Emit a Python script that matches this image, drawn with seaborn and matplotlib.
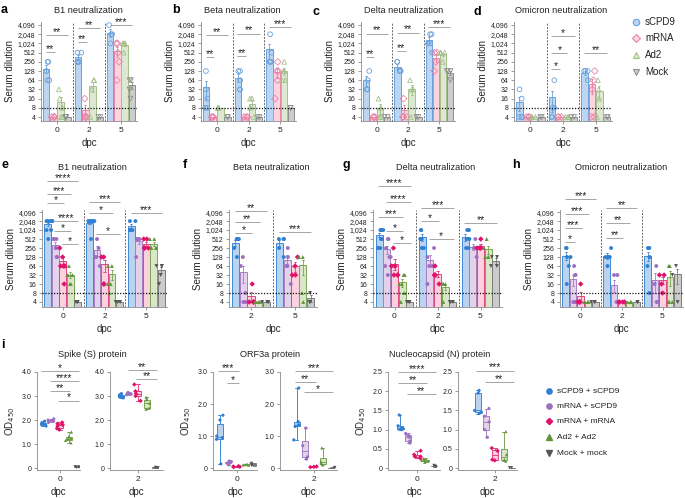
import numpy as np
import pandas as pd
import matplotlib
matplotlib.use('Agg')
import matplotlib.pyplot as plt
from matplotlib.ticker import NullLocator
import seaborn as sns

np.random.seed(3)

# ---------------- data ----------------
dpc3 = ['0', '2', '5']
dpc2 = ['2', '5']
groups1 = ['sCPD9', 'mRNA', 'Ad2', 'Mock']
groups2 = ['sCPD9 + sCPD9', 'mRNA + sCPD9', 'mRNA + mRNA', 'Ad2 + Ad2', 'Mock + mock']
titer_ticks = [4, 8, 16, 32, 64, 128, 256, 512, 1024, 2048, 4096]

# row 1 (single-dose groups), one list per dpc
a_sCPD9 = [[256, 256, 128, 64, 64], [512, 512, 256, 256, 256], [4096, 2048, 2048, 1024]]
a_mRNA = [[4, 4, 4, 4], [16, 4, 4, 4], [1024, 1024, 512, 256, 64]]
a_Ad2 = [[32, 16, 8, 4, 4], [64, 64, 32, 4], [1024, 1024, 1024, 1024, 512]]
a_Mock = [[4, 4, 4], [4, 4], [64, 64, 32, 16]]

b_sCPD9 = [[128, 32, 16, 8, 8], [128, 128, 64, 32, 32], [2048, 512, 256, 256, 256]]
b_mRNA = [[4, 4, 4], [4, 4, 4], [256, 128, 128, 64, 16]]
b_Ad2 = [[8, 8, 8, 8], [16, 16, 8, 4], [256, 128, 128, 64, 64]]
b_Mock = [[4, 4], [4, 4], [8, 8]]

c_sCPD9 = [[128, 64, 32, 32], [256, 256, 128, 128, 128], [2048, 2048, 1024, 1024, 512]]
c_mRNA = [[4, 4, 4], [16, 4, 4, 4], [512, 512, 256, 128]]
c_Ad2 = [[16, 8, 4, 4], [64, 32, 32, 4], [512, 512, 512, 512, 256]]
c_Mock = [[4, 4], [4, 4], [128, 128, 128, 64]]

d_sCPD9 = [[32, 16, 4, 4, 4], [64, 8, 8, 4, 4], [128, 128, 128, 64]]
d_mRNA = [[4, 4, 4], [4, 4, 4], [128, 64, 32, 4, 4]]
d_Ad2 = [[4, 4, 4], [4, 4, 4], [64, 32, 16, 4]]
d_Mock = [[4, 4], [4, 4], [4, 4]]

# row 2 (prime-boost groups)
e_ss = [[2048, 2048, 2048, 2048, 2048, 1024, 1024, 512], [2048, 2048, 2048, 2048, 2048, 2048, 512], [2048, 2048, 1024, 1024, 1024]]
e_ms = [[512, 512, 512, 256, 256, 128, 128], [512, 256, 128, 128, 64], [512, 512, 512, 512, 128]]
e_mm = [[256, 128, 64, 64, 64, 64, 16], [128, 128, 16, 16], [512, 512, 256, 256, 256]]
e_aa = [[64, 32, 32, 32, 16, 16], [64, 64, 16, 16, 8], [512, 512, 256, 256, 256]]
e_mock = [[4, 4, 4], [4, 4, 4], [64, 64, 64, 32, 16]]

f_ss = [[512, 512, 512, 256, 128], [512, 512, 512, 256, 128]]
f_ms = [[128, 64, 8, 4, 4], [256, 128, 64, 64, 16]]
f_mm = [[16, 4, 4, 4, 4], [128, 64, 32, 32]]
f_aa = [[4, 4, 4, 4], [128, 128, 8, 4]]
f_mock = [[4, 4, 4], [8, 4, 4]]

g_ss = [[1024, 1024, 1024, 1024, 512, 512, 256, 256], [1024, 1024, 512, 512, 256, 256], [1024, 1024, 512, 512, 256, 256]]
g_ms = [[512, 512, 256, 128, 128, 64, 32], [256, 128, 64, 64, 16], [512, 256, 256, 256, 128]]
g_mm = [[256, 64, 64, 64, 32, 32, 32], [64, 32, 32, 32, 16], [512, 256, 256, 256, 256]]
g_aa = [[32, 32, 16, 16, 8, 4], [16, 16, 16, 4], [512, 256, 128, 128, 128]]
g_mock = [[4, 4, 4], [4, 4, 4], [128, 128, 64, 64]]

h_ss = [[256, 256, 128, 128, 64, 16], [256, 128, 128, 128, 64], [256, 256, 128, 64, 8]]
h_ms = [[64, 32, 32, 4, 4, 4], [32, 32, 4, 4, 4], [64, 16, 4, 4]]
h_mm = [[16, 4, 4, 4, 4], [4, 4, 4, 4], [32, 32, 16, 8]]
h_aa = [[4, 4, 4, 4], [4, 4, 4], [64, 64, 4, 4, 4]]
h_mock = [[4, 4, 4], [4, 4], [64, 32, 4]]

# row 3 (ELISA OD450), [dpc 0, dpc 2]
S_ss = [[1.75, 1.8, 1.85, 1.88, 1.95], [2.92, 2.96, 3.0, 3.05, 3.1]]
S_ms = [[1.9, 1.95, 1.98, 2.0, 2.05], [3.05, 3.08, 3.1, 3.12, 3.15]]
S_mm = [[1.6, 1.65, 1.75, 1.8, 1.85, 1.9], [2.8, 3.0, 3.1, 3.2, 3.48]]
S_aa = [[1.05, 1.15, 1.2, 1.25, 1.3, 1.5], [2.45, 2.5, 2.7, 2.85, 2.95]]
S_mock = [[0.03, 0.05, 0.06, 0.04], [0.02, 0.03, 0.02]]

O_ss = [[0.13, 0.9, 0.95, 1.0, 1.5, 1.65], [0.88, 1.3, 1.35, 1.45, 2.5]]
O_ms = [[0.1, 0.15, 0.18, 0.2, 0.22], [0.28, 0.35, 0.7, 1.25]]
O_mm = [[0.03, 0.04, 0.05, 0.06], [0.03, 0.04, 0.05]]
O_aa = [[0.09, 0.1, 0.11, 0.12], [0.1, 0.15, 0.2, 0.63]]
O_mock = [[0.08, 0.1, 0.12, 0.15], [0.01, 0.02]]

N_ss = [[1.0, 1.02, 1.05, 1.1, 1.38], [1.42, 1.45, 1.5, 1.95, 2.02]]
N_ms = [[0.65, 0.7, 0.8, 0.85, 0.9], [0.8, 1.0, 1.2, 1.35, 1.55]]
N_mm = [[0.25, 0.3, 0.3, 0.35, 0.45], [0.2, 0.22, 0.45, 0.52]]
N_aa = [[0.15, 0.18, 0.2, 0.22, 0.25], [0.18, 0.22, 0.35, 0.95]]
N_mock = [[0.04, 0.05, 0.07], [0.01, 0.01]]

# significance annotations: (dpc index, group i, group j, bracket height, label)
sig_a = [(0, 0, 1, 537, '**'), (0, 0, 3, 1925, '**'), (1, 0, 1, 1141, '**'), (1, 0, 3, 3258, '**'), (2, 0, 3, 4096, '***')]
sig_b = [(0, 0, 1, 367, '**'), (0, 0, 3, 1925, '**'), (1, 0, 1, 396, '**'), (1, 0, 3, 2150, '**'), (2, 0, 3, 3520, '***')]
sig_c = [(0, 0, 1, 367, '**'), (0, 0, 3, 2150, '**'), (1, 0, 1, 577, '**'), (1, 0, 3, 2300, '**'), (2, 0, 3, 3520, '***')]
sig_d = [(1, 0, 1, 149, '*'), (1, 0, 2, 498, '*'), (1, 0, 3, 1793, '*'), (2, 0, 3, 498, '**')]
sig_e = [(0, 0, 4, 44500, '****'), (0, 0, 3, 16384, '***'), (0, 0, 2, 8192, '*'), (0, 1, 4, 2048, '****'),
         (0, 1, 3, 948, '*'), (0, 2, 4, 348, '*'), (1, 0, 4, 8800, '***'), (1, 0, 3, 3790, '*'),
         (1, 1, 4, 755, '*'), (2, 0, 4, 3790, '***')]
sig_f = [(0, 0, 4, 4400, '**'), (0, 0, 3, 1900, '**'), (0, 0, 2, 814, '*'), (1, 0, 4, 880, '***')]
sig_g = [(0, 0, 4, 30500, '****'), (0, 1, 4, 8800, '****'), (0, 0, 3, 2780, '***'), (0, 1, 3, 948, '*'),
         (0, 2, 4, 378, '*'), (1, 0, 4, 5560, '***'), (1, 0, 2, 2048, '*'), (1, 1, 4, 512, '*'), (2, 0, 4, 1757, '**')]
sig_h = [(0, 0, 4, 11100, '***'), (0, 0, 3, 3520, '***'), (0, 0, 2, 1193, '***'), (0, 0, 1, 406, '*'),
         (1, 0, 4, 5560, '**'), (1, 0, 3, 1757, '**'), (1, 0, 2, 553, '**')]
sig_S0 = [(0, 0, 4, 4.04, '*'), (0, 1, 4, 3.63, '****'), (0, 1, 3, 3.2, '**'), (0, 2, 4, 2.8, '*')]
sig_S2 = [(0, 1, 4, 4.08, '**'), (0, 2, 4, 3.7, '**')]
sig_O0 = [(0, 0, 2, 3.03, '***'), (0, 1, 2, 2.66, '*')]
sig_O2 = [(0, 0, 4, 3.03, '***'), (0, 0, 2, 2.69, '**'), (0, 1, 4, 2.38, '*')]
sig_N0 = [(0, 0, 4, 2.5, '****'), (0, 0, 3, 2.21, '**'), (0, 1, 4, 1.93, '**')]
sig_N2 = [(0, 0, 4, 2.53, '***'), (0, 1, 4, 2.24, '**')]

# ---------------- style ----------------
fill1 = dict(zip(groups1, ['#bcd5f2', '#fbd4df', '#dde8d1', '#cdcdcd']))
edge1 = dict(zip(groups1, ['#6aa2dc', '#e883a6', '#a6c08c', '#8f8f8f']))
mark1 = dict(zip(groups1, ['o', 'D', '^', 'v']))
fill2 = dict(zip(groups2, ['#b9d3f1', '#e4d2eb', '#fbd1dd', '#d9e6ca', '#cbcbcb']))
edge2 = dict(zip(groups2, ['#3f8ad6', '#a77ec4', '#e2437f', '#7ba554', '#7a7a7a']))
pt2 = dict(zip(groups2, ['#2f7fd2', '#9d6fc1', '#e0126c', '#62943b', '#555555']))
mark2 = dict(zip(groups2, ['o', 'o', 'D', '^', 'v']))

sns.set_theme(style='ticks')
plt.rcParams['font.family'] = ['Liberation Sans', 'DejaVu Sans']
plt.rcParams['axes.linewidth'] = 0.6
plt.rcParams['axes.edgecolor'] = '#8a8a8a'
SPINE = '#8a8a8a'

W, H = 685, 498
fig = plt.figure(figsize=(W / 100, H / 100), dpi=100)


def add_ax(x0, y0, x1, y1):
    return fig.add_axes([x0 / W, 1 - y1 / H, (x1 - x0) / W, (y1 - y0) / H])


def long_df(series, order, groups):
    rows = []
    for g, vals in zip(groups, series):
        for d, pts in zip(order, vals):
            for v in pts:
                rows.append((d, g, v))
    return pd.DataFrame(rows, columns=['dpc', 'group', 'value'])


def style_axis(ax):
    sns.despine(ax=ax)
    for s in ['left', 'bottom']:
        ax.spines[s].set_color(SPINE)
        ax.spines[s].set_linewidth(0.6)
    ax.tick_params(axis='both', length=2.5, width=0.6, color=SPINE, pad=1.5, labelcolor='#222222')
    ax.tick_params(axis='y', labelsize=5)
    ax.tick_params(axis='x', labelsize=6)


def add_sig(ax, sigs, n_h, width=0.8):
    slot = width / n_h
    for gi, i, j, y, lab in sigs:
        x1 = gi - width / 2 + slot * (i + 0.5) - 0.03
        x2 = gi - width / 2 + slot * (j + 0.5) + 0.03
        ax.plot([x1, x2], [y, y], color='#a5a5a5', lw=0.7, clip_on=False, solid_capstyle='butt', zorder=5)
        ax.annotate(lab, ((x1 + x2) / 2, y), xytext=(0, 0.2), textcoords='offset points',
                    ha='center', va='baseline', fontsize=7.5, color='#222222', annotation_clip=False)


def bar_panel(rect, series, order, groups, fills, edges, pts, marks, hollow, ylim, sigs, jit, msize):
    ax = add_ax(*rect)
    df = long_df(series, order, groups)
    for g in groups:
        sub = df[df.group == g]
        sns.barplot(data=sub, x='dpc', y='value', hue='group', order=order, hue_order=groups,
                    palette=fills, dodge=True, errorbar='se', capsize=0.25,
                    err_kws={'color': edges[g], 'linewidth': 0.6}, width=0.9, gap=0.1,
                    edgecolor=edges[g], linewidth=0.7, saturation=1, legend=False, ax=ax)
    for g in groups:
        sub = df[df.group == g]
        n0 = len(ax.collections)
        sns.stripplot(data=sub, x='dpc', y='value', hue='group', order=order, hue_order=groups,
                      palette=pts, dodge=True, jitter=jit, marker=marks[g], size=msize,
                      linewidth=0, legend=False, ax=ax, zorder=4)
        if hollow:
            for coll in ax.collections[n0:]:
                coll.set_facecolor('none')
                coll.set_edgecolor(pts[g])
                coll.set_linewidth(0.6)
    ax.set_yscale('log', base=2)
    ax.set_ylim(*ylim)
    ax.set_yticks(titer_ticks)
    ax.set_yticklabels([f'{t:,}' for t in titer_ticks])
    ax.yaxis.set_minor_locator(NullLocator())
    ax.set_xlim(-0.5, len(order) - 0.5)
    for k in range(1, len(order)):
        ax.axvline(k - 0.5, color='#666666', lw=0.7, ls=(0, (2, 1.4)), zorder=1)
    ax.axhline(8, color='#111111', lw=0.9, ls=(0, (1, 1.3)), zorder=6)
    style_axis(ax)
    ax.set_xlabel('dpc', fontsize=7, labelpad=3)
    ax.set_ylabel('Serum dilution', fontsize=7, labelpad=2)
    add_sig(ax, sigs, len(groups), 0.86)
    return ax


def box_panel(rect, center_px, series, dpc_index, groups, ymax, yt, ytl, sigs, ylabel):
    ax = add_ax(*rect)
    d = ['0', '2'][dpc_index]
    rows = [(d, g, v) for g, vals in zip(groups, series) for v in vals[dpc_index]]
    df = pd.DataFrame(rows, columns=['dpc', 'group', 'value'])
    for g in groups:
        sub = df[df.group == g]
        sns.boxplot(data=sub, x='dpc', y='value', hue='group', order=[d], hue_order=groups,
                    palette=fill2, dodge=True, width=0.8, gap=0.3, whis=(0, 100), showfliers=False,
                    linecolor=edge2[g], linewidth=0.7, saturation=1, legend=False, ax=ax)
    for g in groups:
        sub = df[df.group == g]
        sns.stripplot(data=sub, x='dpc', y='value', hue='group', order=[d], hue_order=groups,
                      palette=pt2, dodge=True, jitter=0.35, marker=mark2[g], size=2.3,
                      linewidth=0, legend=False, ax=ax, zorder=4)
    wcat = 54.0
    ax.set_xlim((rect[0] - center_px) / wcat, (rect[2] - center_px) / wcat)
    ax.set_ylim(-0.02 * ymax, ymax)
    ax.set_yticks(yt)
    ax.set_yticklabels(ytl)
    style_axis(ax)
    ax.set_xlabel('dpc', fontsize=7, labelpad=3)
    if ylabel:
        ax.set_ylabel('OD$_{450}$', fontsize=7, labelpad=3)
    else:
        ax.set_ylabel('')
    add_sig(ax, sigs, len(groups))
    return ax


# ---------------- row 1 ----------------
r1 = (22, 121)
yl1 = (2.96, 5150)
bar_panel((41, r1[0], 137, r1[1]), [a_sCPD9, a_mRNA, a_Ad2, a_Mock], dpc3, groups1, fill1, edge1, edge1, mark1, True, yl1, sig_a, 0.3, 3.4)
bar_panel((201, r1[0], 296, r1[1]), [b_sCPD9, b_mRNA, b_Ad2, b_Mock], dpc3, groups1, fill1, edge1, edge1, mark1, True, yl1, sig_b, 0.3, 3.4)
bar_panel((361, r1[0], 455, r1[1]), [c_sCPD9, c_mRNA, c_Ad2, c_Mock], dpc3, groups1, fill1, edge1, edge1, mark1, True, yl1, sig_c, 0.3, 3.4)
bar_panel((514, r1[0], 612, r1[1]), [d_sCPD9, d_mRNA, d_Ad2, d_Mock], dpc3, groups1, fill1, edge1, edge1, mark1, True, yl1, sig_d, 0.3, 3.4)

# ---------------- row 2 ----------------
r2 = (210, 307)
yl2 = (2.72, 4800)
bar_panel((42, r2[0], 167, r2[1]), [e_ss, e_ms, e_mm, e_aa, e_mock], dpc3, groups2, fill2, edge2, pt2, mark2, False, yl2, sig_e, 0.4, 2.8)
bar_panel((229, r2[0], 317, r2[1]), [f_ss, f_ms, f_mm, f_aa, f_mock], dpc2, groups2, fill2, edge2, pt2, mark2, False, yl2, sig_f, 0.4, 2.8)
bar_panel((373, r2[0], 502, r2[1]), [g_ss, g_ms, g_mm, g_aa, g_mock], dpc3, groups2, fill2, edge2, pt2, mark2, False, yl2, sig_g, 0.4, 2.8)
bar_panel((560, r2[0], 683, r2[1]), [h_ss, h_ms, h_mm, h_aa, h_mock], dpc3, groups2, fill2, edge2, pt2, mark2, False, yl2, sig_h, 0.4, 2.8)

# ---------------- row 3 ----------------
r3 = (372, 470)
S = [S_ss, S_ms, S_mm, S_aa, S_mock]
O = [O_ss, O_ms, O_mm, O_aa, O_mock]
Nn = [N_ss, N_ms, N_mm, N_aa, N_mock]
yS = [0, 1, 2, 3, 4]; ySl = ['0', '1.0', '2.0', '3.0', '4.0']
yO = [0, 1, 2, 3]; yOl = ['0', '1.0', '2.0', '3.0']
yN = [0, 0.5, 1.0, 1.5, 2.0, 2.5]; yNl = ['0', '0.5', '1.0', '1.5', '2.0', '2.5']
box_panel((37, r3[0], 80, r3[1]), 60, S, 0, groups2, 4.0, yS, ySl, sig_S0, True)
box_panel((110, r3[0], 163, r3[1]), 138, S, 1, groups2, 4.0, yS, ySl, sig_S2, False)
box_panel((213, r3[0], 257, r3[1]), 237, O, 0, groups2, 3.0, yO, yOl, sig_O0, True)
box_panel((280, r3[0], 337, r3[1]), 314, O, 1, groups2, 3.0, yO, yOl, sig_O2, False)
box_panel((388, r3[0], 440, r3[1]), 417, Nn, 0, groups2, 2.5, yN, yNl, sig_N0, True)
box_panel((458, r3[0], 517, r3[1]), 495, Nn, 1, groups2, 2.5, yN, yNl, sig_N2, False)

# ---------------- overlay text ----------------
ov = fig.add_axes([0, 0, 1, 1])
ov.set_xlim(0, W)
ov.set_ylim(H, 0)
ov.axis('off')

for lab, x, y in [('a', 1, 10), ('b', 172, 10), ('c', 313, 12), ('d', 474, 12),
                  ('e', 1, 165), ('f', 183, 165), ('g', 343, 165), ('h', 512, 165), ('i', 1, 345)]:
    ov.text(x, y, lab, fontsize=9, fontweight='bold', ha='left', va='center', color='black')

for t, x, y in [('B1 neutralization', 88, 10), ('Beta neutralization', 242, 10),
                ('Delta neutralization', 404, 10), ('Omicron neutralization', 561, 10),
                ('B1 neutralization', 92, 167), ('Beta neutralization', 271, 167),
                ('Delta neutralization', 436, 167), ('Omicron neutralization', 621, 167),
                ('Spike (S) protein', 92, 354), ('ORF3a protein', 270, 354),
                ('Nucleocapsid (N) protein', 440, 354)]:
    ov.text(x, y, t, fontsize=6.6, ha='center', va='center', color='#222222')

for (g, y) in zip(groups1, [22, 38, 55, 72]):
    ov.plot([636], [y], marker=mark1[g], ms=4.6 if g != 'mRNA' else 3.8, mfc=fill1[g], mec=edge1[g], mew=0.8, ls='none')
    ov.text(645, y, g, fontsize=7, ha='left', va='center', color='#222222')

for (g, y) in zip(groups2, [391, 406, 421, 437, 453]):
    ov.plot([549], [y], marker=mark2[g], ms=3.8 if g != 'mRNA + mRNA' else 3.2, mfc=pt2[g], mec=pt2[g], ls='none')
    ov.text(557, y, g, fontsize=6, ha='left', va='center', color='#222222')

fig.savefig('out.png', dpi=100)
